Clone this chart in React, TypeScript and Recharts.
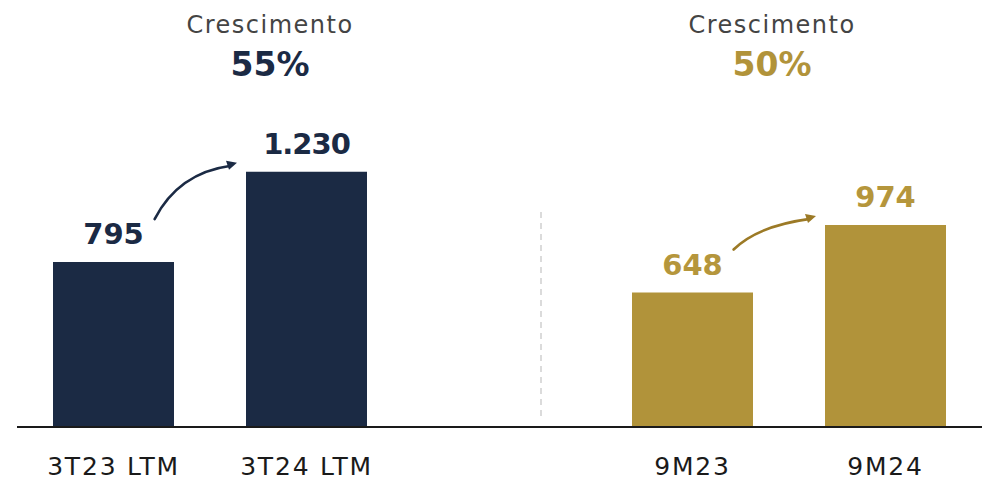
import { BarChart, Bar, XAxis, YAxis, Cell, LabelList, Customized } from "recharts";

const categories = ["3T23 LTM", "3T24 LTM", "", "9M23", "9M24"];
const values: (number | null)[] = [795, 1230, null, 648, 974];
const groupColors = ["#1B2A44", "#1B2A44", "#ffffff", "#B1933A", "#B1933A"];
const labelColors = ["#1B2A44", "#1B2A44", "#ffffff", "#B5963C", "#B5963C"];
const arrowColors = ["#1B2A44", "", "", "#9C7A26", ""];

const FONT = "'DejaVu Sans', sans-serif";
const BASELINE = 427;

const data = categories.map((name, i) => ({ name, value: values[i] }));
// LabelList skips null entries, so map its index back to the category index
const shown = values.map((v, i) => (v == null ? -1 : i)).filter((i) => i >= 0);

const fmt = (v: number) => v.toString().replace(/\B(?=(\d{3})+(?!\d))/g, ".");
const growth = (a: number, b: number) => `${Math.round((b / a - 1) * 100)}%`;

function ValueLabel(props: any) {
  const { x, y, width, height, value } = props;
  if (value == null) return null;
  const index = shown[props.index] ?? props.index;
  const cx = x + width / 2;
  const next = values[index + 1];
  let arrow = null;
  if (arrowColors[index] && next != null) {
    const ppu = height / value;
    const sx = x + width * 0.84;
    const sy = y - 43;
    const ex = x + 184;
    const ey = BASELINE - next * ppu - 9;
    const c = arrowColors[index];
    arrow = (
      <g>
        <path
          d={`M${sx},${sy} Q${sx + 24},${ey + 10} ${ex - 6},${ey + 3}`}
          stroke={c}
          strokeWidth={2.6}
          fill="none"
          strokeLinecap="round"
        />
        <path d={`M${ex},${ey} L${ex - 11},${ey - 2} L${ex - 8},${ey + 7} Z`} fill={c} />
      </g>
    );
  }
  return (
    <g>
      <text
        x={cx}
        y={y - 18}
        textAnchor="middle"
        fontFamily={FONT}
        fontWeight={700}
        fontSize={29}
        letterSpacing={value >= 1000 ? -1 : 0}
        fill={labelColors[index]}
      >
        {fmt(value)}
      </text>
      {arrow}
    </g>
  );
}

function CategoryTick(props: any) {
  const { x, y, payload } = props;
  return (
    <text
      x={x}
      y={y + 40}
      textAnchor="middle"
      fontFamily={FONT}
      fontSize={25}
      letterSpacing={1.8}
      fill="#1a1a1a"
    >
      {payload.value}
    </text>
  );
}

function Headers() {
  const blocks = [
    { cx: 270, g: growth(values[0] as number, values[1] as number), color: "#1B2A44" },
    { cx: 772, g: growth(values[3] as number, values[4] as number), color: "#B1933A" },
  ];
  return (
    <g>
      {blocks.map((b) => (
        <g key={b.cx}>
          <text
            x={b.cx}
            y={33}
            textAnchor="middle"
            fontFamily={FONT}
            fontSize={24}
            letterSpacing={1.5}
            fill="#444444"
          >
            Crescimento
          </text>
          <text
            x={b.cx}
            y={76}
            textAnchor="middle"
            fontFamily={FONT}
            fontWeight={700}
            fontSize={33}
            fill={b.color}
          >
            {b.g}
          </text>
        </g>
      ))}
      <line x1={541} y1={212} x2={541} y2={420} stroke="#c8c8c8" strokeWidth={1.3} strokeDasharray="6 5" />
    </g>
  );
}

export default function App() {
  return (
    <div style={{ position: "absolute", left: 0, top: 0, width: 987, height: 483, background: "#fff" }}>
      <BarChart
        width={987}
        height={483}
        data={data}
        margin={{ top: 95, right: 5, bottom: 0, left: 17 }}
      >
        <XAxis
          dataKey="name"
          height={56}
          tickLine={false}
          axisLine={{ stroke: "#1a1a1a", strokeWidth: 2 }}
          interval={0}
          tick={<CategoryTick />}
        />
        <YAxis hide domain={[0, 1600]} />
        <Bar dataKey="value" barSize={121} isAnimationActive={false}>
          {data.map((d, i) => (
            <Cell key={d.name + i} fill={groupColors[i]} />
          ))}
          <LabelList dataKey="value" content={<ValueLabel />} />
        </Bar>
        <Customized component={<Headers />} />
      </BarChart>
    </div>
  );
}
